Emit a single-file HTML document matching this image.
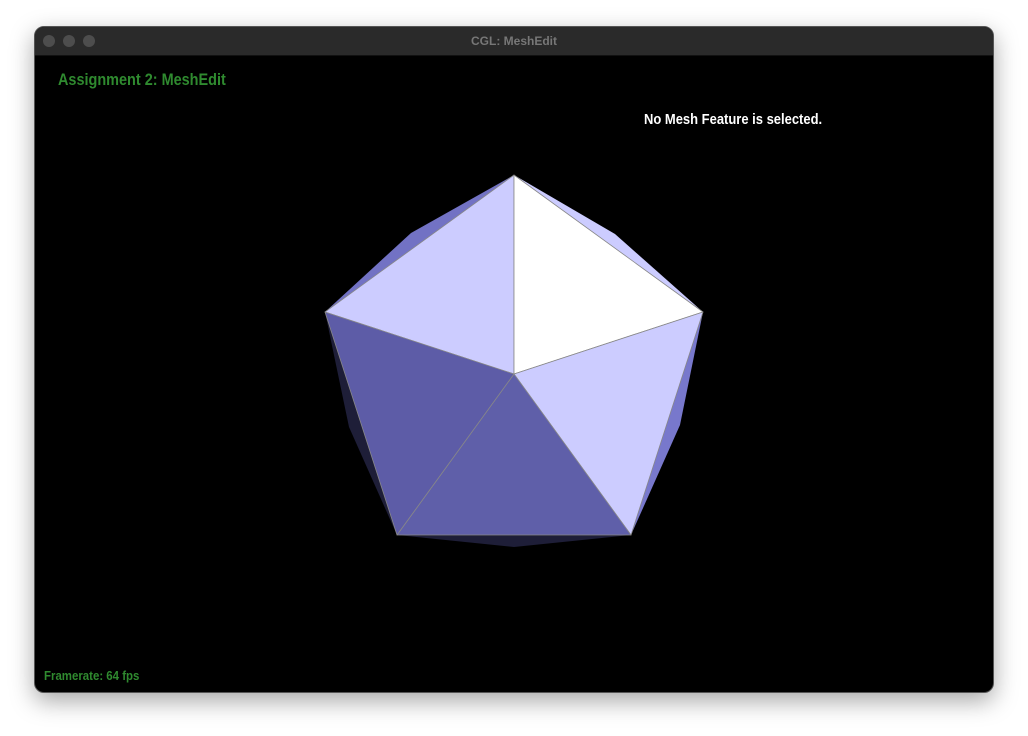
<!DOCTYPE html>
<html><head><meta charset="utf-8"><style>
html,body{margin:0;padding:0;width:1028px;height:736px;background:#fff;overflow:hidden;font-family:"Liberation Sans",sans-serif}
.win{position:absolute;left:34px;top:26px;width:960px;height:667px;border-radius:10px;background:#000;overflow:hidden;box-shadow:0 8px 24px rgba(0,0,0,0.35);border:1px solid #555;box-sizing:border-box}
.bar{position:absolute;left:0;top:0;right:0;height:28px;background:#2a2a2a;border-bottom:1px solid #111}
.dot{position:absolute;top:8px;width:12px;height:12px;border-radius:50%;background:#4d4d4d}
.ttl{position:absolute;left:0;right:0;top:7px;text-align:center;color:#777;font-size:12px;font-weight:bold}
.t{position:absolute;font-weight:bold;white-space:nowrap;transform-origin:0 0}
</style></head><body>
<div class="win">
<div class="bar"><div class="dot" style="left:8px"></div><div class="dot" style="left:28px"></div><div class="dot" style="left:48px"></div><div class="ttl">CGL: MeshEdit</div></div>
</div>
<div class="t" style="left:58px;top:70px;color:#2f8a2f;font-size:17px;transform:scaleX(0.85)">Assignment 2: MeshEdit</div>
<div class="t" style="left:644px;top:111px;color:#fff;font-size:15px;transform:scaleX(0.865)">No Mesh Feature is selected.</div>
<div class="t" style="left:44px;top:668px;color:#2f8a2f;font-size:13px;transform:scaleX(0.88)">Framerate: 64 fps</div>
<svg width="1028" height="736" style="position:absolute;left:0;top:0">
<g stroke-linejoin="round">
<polygon points="514,175 411,233 325,312" fill="#7272c4"/>
<polygon points="514,175 615,234 703,312" fill="#ccccff"/>
<polygon points="703,312 680,425 631,535" fill="#7878cc"/>
<polygon points="325,312 349,427 397,535" fill="#1e1e38"/>
<polygon points="397,535 514,547 631,535" fill="#1e1e38"/>
<polygon points="514,175 514,374 325,312" fill="#ccccff" stroke="#888" stroke-width="0.8"/>
<polygon points="514,175 703,312 514,374" fill="#ffffff" stroke="#888" stroke-width="0.8"/>
<polygon points="703,312 631,535 514,374" fill="#ccccff" stroke="#888" stroke-width="0.8"/>
<polygon points="631,535 397,535 514,374" fill="#5f5fa9" stroke="#888" stroke-width="0.8"/>
<polygon points="397,535 325,312 514,374" fill="#5d5ca7" stroke="#888" stroke-width="0.8"/>
</g>
</svg>
</body></html>
